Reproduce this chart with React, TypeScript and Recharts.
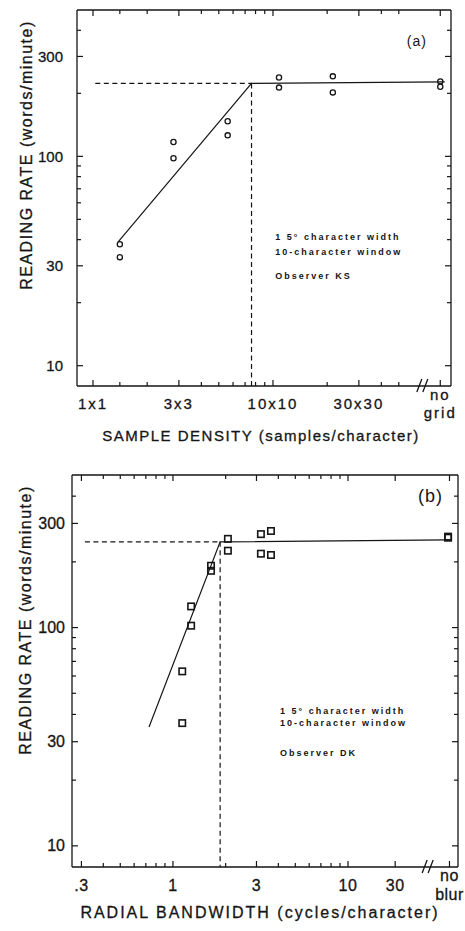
import React from 'react'
import {
  ComposedChart,
  Scatter,
  XAxis,
  YAxis,
  ReferenceLine,
  ReferenceDot,
} from 'recharts'

const INK = '#151515'
const FONT = '"Liberation Sans", Arial, Helvetica, sans-serif'

// ---- panel (a): sample density, observer KS
const densityKS = [1.41, 1.41, 2.8, 2.8, 5.6, 5.6, 10.8, 10.8, 21.5, 21.5, 85, 85]
const rateKS = [38, 33, 117, 98, 147, 126, 238, 213, 241, 202, 228, 215]
const fitDensity = [1.38, 7.6, 90]
const fitRateKS = [39, 223, 227]
const densityTicks = [1, 1.41, 2, 3, 4, 5, 6, 7, 8, 9, 10, 20, 30, 40, 50, 85]
const densityLabelAt = [1, 3, 10, 30, 85]
const densityLabels = [['1x1'], ['3x3'], ['10x10'], ['30x30'], ['no', 'grid']]
const densityDomain = [0.815, 97.5]
const kneeA = { x: 7.6, y: 223, from: 1.03 }

// ---- panel (b): radial bandwidth, observer DK
const bandwidthDK = [1.13, 1.13, 1.27, 1.27, 1.65, 1.65, 2.06, 2.06, 3.18, 3.18, 3.63, 3.63, 37.3, 37.3]
const rateDK = [63, 36.5, 102, 125, 192, 182, 255, 225, 268, 218, 277, 215, 261, 258]
const fitBandwidth = [0.73, 1.86, 37.3]
const fitRateDK = [35, 247, 252]
const bandwidthTicks = [0.3, 0.4, 0.5, 0.6, 0.7, 0.8, 0.9, 1, 2, 3, 4, 5, 6, 7, 8, 9, 10, 18.6, 38]
const bandwidthLabelAt = [0.3, 1, 3, 10, 18.6, 38]
const bandwidthLabels = [['.3'], ['1'], ['3'], ['10'], ['30'], ['no', 'blur']]
const bandwidthDomain = [0.265, 42.5]
const kneeB = { x: 1.86, y: 247, from: 0.314 }

// ---- shared y axis (reading rate, words/minute)
const rateTicks = [10, 20, 30, 40, 50, 60, 70, 80, 90, 100, 200, 300, 400]
const rateLabelAt = [10, 30, 100, 300]
const rateDomain = [8, 500]

const zip = (xs: number[], ys: number[]) => xs.map((x, i) => ({ x, y: ys[i] }))

const heavy = { stroke: INK, strokeWidth: 0.3 }

function BottomTick(props: any) {
  const { x, y, payload, at, labels, fs, gap, ls } = props
  const i = at.indexOf(payload.value)
  const lines: string[] = i >= 0 ? labels[i] : []
  return (
    <g>
      <line x1={x} x2={x} y1={y} y2={y - (i >= 0 ? 6 : 4)} stroke={INK} strokeWidth={1.2} />
      {lines.map((t, k) => (
        <text
          key={k}
          x={x}
          y={y + gap + (lines.length > 1 ? (k - 0.5) * fs * 1.2 : 0)}
          textAnchor="middle"
          dominantBaseline="central"
          fontSize={fs}
          letterSpacing={ls}
          fontFamily={FONT}
          fill={INK}
          {...heavy}
        >
          {t}
        </text>
      ))}
    </g>
  )
}

function TopTick(props: any) {
  const { x, y, payload, at } = props
  const major = at.indexOf(payload.value) >= 0
  return <line x1={x} x2={x} y1={y} y2={y + (major ? 6 : 4)} stroke={INK} strokeWidth={1.2} />
}

function LeftTick(props: any) {
  const { x, y, payload, fs, gap } = props
  const major = rateLabelAt.indexOf(payload.value) >= 0
  return (
    <g>
      <line x1={x} x2={x + (major ? 6 : 4)} y1={y} y2={y} stroke={INK} strokeWidth={1.2} />
      {major && (
        <text x={x - gap} y={y} textAnchor="end" dominantBaseline="central" fontSize={fs} fontFamily={FONT} fill={INK} {...heavy}>
          {payload.value}
        </text>
      )}
    </g>
  )
}

function RightTick(props: any) {
  const { x, y, payload } = props
  const major = rateLabelAt.indexOf(payload.value) >= 0
  return <line x1={x} x2={x - (major ? 6 : 4)} y1={y} y2={y} stroke={INK} strokeWidth={1.2} />
}

function YTitle(props: any) {
  const { viewBox, dx, cy, fs, ls } = props
  const x = (viewBox?.x ?? 0) + dx
  return (
    <text
      x={x}
      y={cy}
      transform={`rotate(-90 ${x} ${cy})`}
      textAnchor="middle"
      dominantBaseline="central"
      fontSize={fs}
      letterSpacing={ls}
      fontFamily={FONT}
      fill={INK}
      {...heavy}
    >
      READING RATE (words/minute)
    </text>
  )
}

function XTitle(props: any) {
  const { cx, cy, fs, ls, text } = props
  return (
    <text x={cx} y={cy} textAnchor="middle" dominantBaseline="central" fontSize={fs} letterSpacing={ls} fontFamily={FONT} fill={INK} {...heavy}>
      {text}
    </text>
  )
}

const circle = (p: any) => <circle cx={p.cx} cy={p.cy} r={2.6} fill="none" stroke={INK} strokeWidth={1.3} />
const square = (p: any) => <rect x={p.cx - 3.2} y={p.cy - 3.2} width={6.4} height={6.4} fill="none" stroke={INK} strokeWidth={1.6} />
const noDot = () => <g />

const breakMark = (p: any) => (
  <g stroke={INK} strokeWidth={1.3}>
    <line x1={p.cx - 6} y1={p.cy + 6} x2={p.cx - 1} y2={p.cy - 7} />
    <line x1={p.cx} y1={p.cy + 6} x2={p.cx + 5} y2={p.cy - 7} />
  </g>
)

const noteText = (lines: string[], offsets: number[]) => (p: any) => (
  <g>
    {lines.map((t, i) => (
      <text key={i} x={p.cx} y={p.cy + offsets[i]} fontSize={9} fontWeight="bold" letterSpacing={2} fontFamily={FONT} fill={INK}>
        {t}
      </text>
    ))}
  </g>
)

const panelText = (t: string, fs: number) => (p: any) => (
  <text x={p.cx} y={p.cy} textAnchor="end" fontSize={fs} letterSpacing={1} fontFamily={FONT} fill={INK}>
    {t}
  </text>
)

function Panel(props: any) {
  const {
    height, top, xDomain, xTicks, xLabelAt, xLabels, points, fit, marker, knee,
    bottomH, leftW, rightW, xfs, xgap, xls, yfs, ygap, yTitle, xTitle, notes, tag, breakAt,
  } = props
  return (
    <ComposedChart width={465} height={height} margin={{ top, right: 0, bottom: 0, left: 0 }}>
      <XAxis
        xAxisId="b"
        dataKey="x"
        type="number"
        scale="log"
        domain={xDomain}
        allowDataOverflow
        ticks={xTicks}
        interval={0}
        height={bottomH}
        tickSize={0}
        tickMargin={0}
        tickLine={false}
        axisLine={{ stroke: INK, strokeWidth: 1.3 }}
        tick={<BottomTick at={xLabelAt} labels={xLabels} fs={xfs} gap={xgap} ls={xls} />}
        label={<XTitle {...xTitle} />}
      />
      <XAxis
        xAxisId="t"
        orientation="top"
        dataKey="x"
        type="number"
        scale="log"
        domain={xDomain}
        allowDataOverflow
        ticks={xTicks}
        interval={0}
        height={2}
        tickSize={0}
        tickMargin={0}
        tickLine={false}
        axisLine={{ stroke: INK, strokeWidth: 1.3 }}
        tick={<TopTick at={xLabelAt} />}
      />
      <YAxis
        yAxisId="l"
        dataKey="y"
        type="number"
        scale="log"
        domain={rateDomain}
        allowDataOverflow
        ticks={rateTicks}
        interval={0}
        width={leftW}
        tickSize={0}
        tickMargin={0}
        tickLine={false}
        axisLine={{ stroke: INK, strokeWidth: 1.3 }}
        tick={<LeftTick fs={yfs} gap={ygap} />}
        label={<YTitle {...yTitle} />}
      />
      <YAxis
        yAxisId="r"
        orientation="right"
        dataKey="y"
        type="number"
        scale="log"
        domain={rateDomain}
        allowDataOverflow
        ticks={rateTicks}
        interval={0}
        width={rightW}
        tickSize={0}
        tickMargin={0}
        tickLine={false}
        axisLine={{ stroke: INK, strokeWidth: 1.3 }}
        tick={<RightTick />}
      />
      <ReferenceLine
        xAxisId="b"
        yAxisId="l"
        segment={[{ x: knee.from, y: knee.y }, { x: knee.x, y: knee.y }]}
        stroke={INK}
        strokeWidth={1.2}
        strokeDasharray="5 3.5"
        ifOverflow="visible"
      />
      <ReferenceLine
        xAxisId="b"
        yAxisId="l"
        segment={[{ x: knee.x, y: knee.y }, { x: knee.x, y: rateDomain[0] }]}
        stroke={INK}
        strokeWidth={1.2}
        strokeDasharray="5 3.5"
        ifOverflow="visible"
      />
      <Scatter
        xAxisId="b"
        yAxisId="l"
        data={fit}
        line={{ stroke: INK, strokeWidth: 1.2 }}
        shape={noDot}
        isAnimationActive={false}
      />
      <Scatter xAxisId="b" yAxisId="l" data={points} shape={marker} isAnimationActive={false} />
      <ReferenceDot xAxisId="b" yAxisId="l" x={breakAt} y={rateDomain[0]} r={0} ifOverflow="visible" shape={breakMark} />
      <ReferenceDot xAxisId="b" yAxisId="l" x={notes.x} y={notes.y} r={0} ifOverflow="visible" shape={noteText(notes.lines, notes.offsets)} />
      <ReferenceDot xAxisId="b" yAxisId="l" x={tag.x} y={tag.y} r={0} ifOverflow="visible" shape={panelText(tag.text, tag.fs)} />
    </ComposedChart>
  )
}

export default function App() {
  return (
    <div style={{ position: 'absolute', left: 0, top: 0, width: 465, height: 931, background: '#fff' }}>
      <div style={{ position: 'absolute', left: 0, top: 0 }}>
        <Panel
          height={460}
          top={8}
          xDomain={densityDomain}
          xTicks={densityTicks}
          xLabelAt={densityLabelAt}
          xLabels={densityLabels}
          points={zip(densityKS, rateKS)}
          fit={zip(fitDensity, fitRateKS)}
          marker={circle}
          knee={kneeA}
          bottomH={74}
          leftW={77}
          rightW={14}
          xfs={15}
          xgap={17}
          xls={2}
          yfs={15}
          ygap={14}
          yTitle={{ dx: 26, cy: 155, fs: 16, ls: 1.5 }}
          xTitle={{ cx: 261, cy: 435, fs: 15, ls: 1.5, text: 'SAMPLE DENSITY (samples/character)' }}
          notes={{ x: 10.3, y: 40, lines: ['1 5° character width', '10-character window', 'Observer KS'], offsets: [0, 15, 39] }}
          tag={{ x: 71.7, y: 338, text: '(a)', fs: 14 }}
          breakAt={68}
        />
      </div>
      <div style={{ position: 'absolute', left: 0, top: 460 }}>
        <Panel
          height={471}
          top={13}
          xDomain={bandwidthDomain}
          xTicks={bandwidthTicks}
          xLabelAt={bandwidthLabelAt}
          xLabels={bandwidthLabels}
          points={zip(bandwidthDK, rateDK)}
          fit={zip(fitBandwidth, fitRateDK)}
          marker={square}
          knee={kneeB}
          bottomH={64}
          leftW={72}
          rightW={7}
          xfs={16}
          xgap={18}
          xls={0.5}
          yfs={16}
          ygap={7}
          yTitle={{ dx: 25, cy: 160, fs: 16, ls: 1.5 }}
          xTitle={{ cx: 260, cy: 452, fs: 16, ls: 2, text: 'RADIAL BANDWIDTH (cycles/character)' }}
          notes={{ x: 4.09, y: 40, lines: ['1 5° character width', '10-character window', 'Observer DK'], offsets: [0, 12, 42] }}
          tag={{ x: 34.9, y: 377, text: '(b)', fs: 18 }}
          breakAt={28.7}
        />
      </div>
    </div>
  )
}
